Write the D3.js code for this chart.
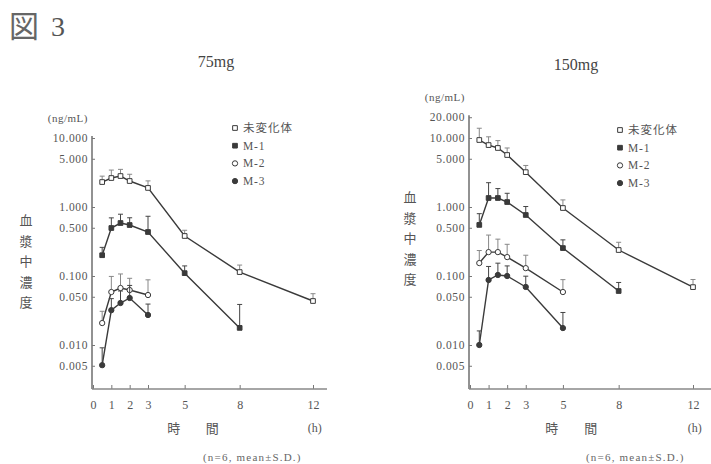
<!DOCTYPE html>
<html><head><meta charset="utf-8">
<script src="https://cdn.jsdelivr.net/npm/d3@7"></script>
<style>body{margin:0;background:#fff}svg{display:block}</style></head>
<body><svg id="c" width="711" height="464"></svg>
<script>
// ---------- data ----------
const seriesNames = ["未変化体", "M-1", "M-2", "M-3"];
const xTicks = [0, 1, 2, 3, 5, 8, 12];
const yTicks75 = [10, 5, 1, 0.5, 0.1, 0.05, 0.01, 0.005];
const yTicks150 = [20, 10, 5, 1, 0.5, 0.1, 0.05, 0.01, 0.005];

const tParent = [0.5, 1, 1.5, 2, 3, 5, 8, 12];
const tM1 = [0.5, 1, 1.5, 2, 3, 5, 8];
const tM23_75 = [0.5, 1, 1.5, 2, 3];
const tM23_150 = [0.5, 1, 1.5, 2, 3, 5];

// 75 mg (ng/mL, mean and SD)
const parent75 = [2.30, 2.63, 2.81, 2.38, 1.89, 0.38, 0.114, 0.0434];
const parent75SD = [0.5, 0.8, 0.7, 0.6, 0.5, 0.08, 0.03, 0.012];
const m1_75 = [0.20, 0.496, 0.586, 0.548, 0.434, 0.110, 0.0177];
const m1_75SD = [0.06, 0.2, 0.2, 0.15, 0.3, 0.03, 0.021];
const m2_75 = [0.0208, 0.0586, 0.067, 0.0626, 0.053];
const m2_75SD = [0.01, 0.04, 0.04, 0.03, 0.035];
const m3_75 = [0.0051, 0.032, 0.0406, 0.048, 0.0272];
const m3_75SD = [0.004, 0.015, 0.02, 0.025, 0.012];

// 150 mg
const parent150 = [9.35, 7.9, 7.17, 5.67, 3.2, 0.967, 0.238, 0.069];
const parent150SD = [4.5, 2.5, 2.0, 1.5, 0.8, 0.3, 0.07, 0.02];
const m1_150 = [0.55, 1.35, 1.35, 1.18, 0.766, 0.254, 0.0606];
const m1_150SD = [0.25, 0.9, 0.5, 0.4, 0.25, 0.08, 0.02];
const m2_150 = [0.154, 0.222, 0.222, 0.188, 0.13, 0.0586];
const m2_150SD = [0.08, 0.17, 0.12, 0.1, 0.07, 0.03];
const m3_150 = [0.010, 0.0875, 0.1035, 0.10, 0.0694, 0.0176];
const m3_150SD = [0.006, 0.05, 0.05, 0.04, 0.03, 0.012];

// ---------- drawing ----------
const svg = d3.select("#c");
const ink = "#3a3a3a";
const txt = "#555";
const serif = "'Liberation Serif','DejaVu Serif',serif";
const cjk = "'Noto Sans CJK JP','Noto Sans CJK SC',sans-serif";

svg.append("text").attr("x", 9).attr("y", 37)
  .attr("font-family", cjk).attr("font-size", 30).attr("fill", "#666")
  .text("図");
svg.append("text").attr("x", 51).attr("y", 36)
  .attr("font-family", serif).attr("font-size", 28).attr("fill", "#555")
  .text("3");

const markerShape = [
  {type: d3.symbolSquare, fill: "#fff"},
  {type: d3.symbolSquare, fill: ink},
  {type: d3.symbolCircle, fill: "#fff"},
  {type: d3.symbolCircle, fill: ink}
];

function drawPanel(o) {
  const g = svg.append("g");
  const x = d3.scaleLinear().domain([0, 12]).range([o.x0, o.x12]);
  const y = d3.scaleLog().domain([0.001, 10]).range([414, 138]);
  const yBottom = o.axisY;

  // title
  g.append("text").attr("x", o.titleX).attr("y", o.titleY)
    .attr("text-anchor", "middle").attr("font-family", serif)
    .attr("font-size", 16).attr("fill", "#444").text(o.title);

  // y axis
  const yAxis = d3.axisLeft(y).tickValues(o.yTicks)
    .tickFormat(d3.format(".3f")).tickSize(-3).tickPadding(4);
  const ya = g.append("g").attr("transform", `translate(${o.x0 - 1},0)`).call(yAxis);
  ya.select(".domain").remove();
  ya.selectAll("line").attr("stroke", "#777");
  ya.selectAll("text").attr("font-family", serif).attr("font-size", 11.5)
    .attr("letter-spacing", 0.6).attr("fill", txt);
  g.append("line").attr("x1", o.x0 - 1).attr("x2", o.x0 - 1)
    .attr("y1", y(o.yTicks[0]) - 2).attr("y2", yBottom)
    .attr("stroke", "#777").attr("stroke-width", 1.6);
  g.append("text").attr("x", o.x0 - 5).attr("y", y(o.yTicks[0]) - 16)
    .attr("text-anchor", "end").attr("font-family", serif).attr("font-size", 11)
    .attr("letter-spacing", 0.5).attr("fill", txt).text("(ng/mL)");

  // x axis
  const xAxis = d3.axisBottom(x).tickValues(xTicks).tickSize(-4).tickPadding(11);
  const xa = g.append("g").attr("transform", `translate(0,${yBottom})`).call(xAxis);
  xa.select(".domain").remove();
  xa.selectAll("line").attr("stroke", "#777");
  xa.selectAll("text").attr("font-family", serif).attr("font-size", 12).attr("fill", txt);
  g.append("line").attr("x1", o.x0 - 1).attr("x2", o.xEnd)
    .attr("y1", yBottom).attr("y2", yBottom)
    .attr("stroke", "#888").attr("stroke-width", 1.6);

  // axis titles
  const yl = ["血", "漿", "中", "濃", "度"];
  yl.forEach((c, i) => {
    g.append("text").attr("x", o.ylabX).attr("y", o.ylabY0 + i * 20.5)
      .attr("text-anchor", "middle").attr("font-family", cjk).attr("font-size", 13)
      .attr("fill", "#555").text(c);
  });
  g.append("text").attr("x", x(4.4)).attr("y", 433).attr("text-anchor", "middle")
    .attr("font-family", cjk).attr("font-size", 13).attr("fill", "#555").text("時");
  g.append("text").attr("x", x(6.5)).attr("y", 433).attr("text-anchor", "middle")
    .attr("font-family", cjk).attr("font-size", 13).attr("fill", "#555").text("間");
  g.append("text").attr("x", x(12.1)).attr("y", 432).attr("text-anchor", "middle")
    .attr("font-family", serif).attr("font-size", 12).attr("fill", "#555").text("(h)");
  g.append("text").attr("x", o.noteX).attr("y", 461)
    .attr("font-family", serif).attr("font-size", 11).attr("letter-spacing", 1.2)
    .attr("fill", "#666").text("(n=6, mean±S.D.)");

  // series
  const line = d3.line().x(d => x(d.t)).y(d => y(d.v));
  o.series.forEach((s, si) => {
    const pts = s.t.map((t, i) => ({t, v: s.v[i], sd: s.sd[i]}));
    g.append("path").datum(pts).attr("d", line)
      .attr("fill", "none").attr("stroke", ink).attr("stroke-width", 1.4);
    // upper SD bars
    pts.forEach(p => {
      const yt = y(p.v + p.sd);
      g.append("line").attr("x1", x(p.t)).attr("x2", x(p.t))
        .attr("y1", y(p.v)).attr("y2", yt)
        .attr("stroke", si % 2 ? "#444" : "#888").attr("stroke-width", 1);
      g.append("line").attr("x1", x(p.t) - 2.5).attr("x2", x(p.t) + 2.5)
        .attr("y1", yt).attr("y2", yt)
        .attr("stroke", si % 2 ? "#444" : "#888").attr("stroke-width", 1);
    });
    const m = markerShape[si];
    g.selectAll(null).data(pts).enter().append("path")
      .attr("d", d3.symbol().type(m.type).size(22))
      .attr("transform", d => `translate(${x(d.t)},${y(d.v)})`)
      .attr("fill", m.fill).attr("stroke", ink).attr("stroke-width", 1);
  });

  // legend
  seriesNames.forEach((n, i) => {
    const ly = o.legY + i * 17.7;
    const m = markerShape[i];
    g.append("path").attr("d", d3.symbol().type(m.type).size(22))
      .attr("transform", `translate(${o.legX},${ly})`)
      .attr("fill", m.fill).attr("stroke", ink).attr("stroke-width", 1);
    g.append("text").attr("x", o.legX + 8).attr("y", ly + 4)
      .attr("font-family", i === 0 ? cjk : serif).attr("font-size", 11.5)
      .attr("letter-spacing", i === 0 ? 1 : 0.8)
      .attr("fill", "#555").text(n);
  });
}

drawPanel({
  title: "75mg", titleX: 216, titleY: 67,
  x0: 93, x12: 313, xEnd: 327, axisY: 389,
  yTicks: yTicks75, ylabX: 26, ylabY0: 225, noteX: 203,
  legX: 235, legY: 128,
  series: [
    {t: tParent, v: parent75, sd: parent75SD},
    {t: tM1, v: m1_75, sd: m1_75SD},
    {t: tM23_75, v: m2_75, sd: m2_75SD},
    {t: tM23_75, v: m3_75, sd: m3_75SD}
  ]
});
drawPanel({
  title: "150mg", titleX: 576, titleY: 70,
  x0: 470, x12: 693, xEnd: 711, axisY: 389,
  yTicks: yTicks150, ylabX: 410, ylabY0: 202, noteX: 586,
  legX: 620, legY: 130,
  series: [
    {t: tParent, v: parent150, sd: parent150SD},
    {t: tM1, v: m1_150, sd: m1_150SD},
    {t: tM23_150, v: m2_150, sd: m2_150SD},
    {t: tM23_150, v: m3_150, sd: m3_150SD}
  ]
});
</script></body></html>
